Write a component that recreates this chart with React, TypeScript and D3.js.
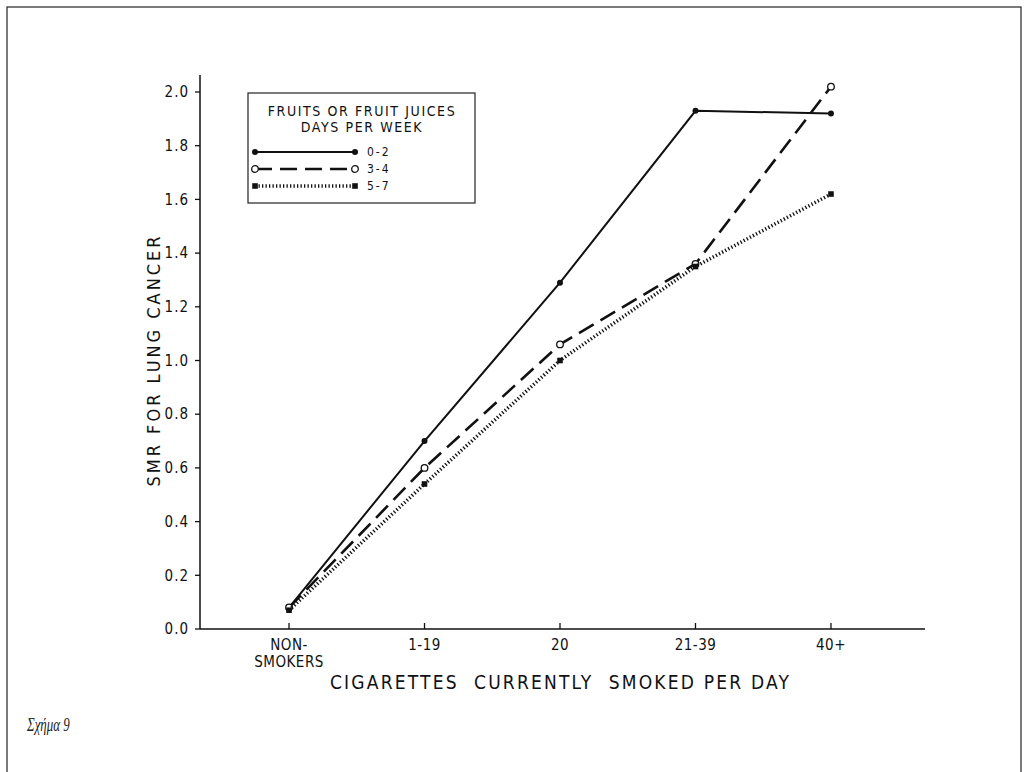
import { useMemo } from "react";
import * as d3 from "d3";

const categories = ["NON-|SMOKERS", "1-19", "20", "21-39", "40+"];
const seriesNames = ["0-2", "3-4", "5-7"];
const values02 = [0.08, 0.7, 1.29, 1.93, 1.92];
const values34 = [0.08, 0.6, 1.06, 1.36, 2.02];
const values57 = [0.07, 0.54, 1.0, 1.35, 1.62];
const yTicks = [0, 0.2, 0.4, 0.6, 0.8, 1.0, 1.2, 1.4, 1.6, 1.8, 2.0];

const WIDTH = 1029;
const HEIGHT = 772;
const MARGIN = { top: 75, right: 104, bottom: 143, left: 200 };
const FONT = "'Liberation Sans Narrow', 'DejaVu Sans Condensed', 'Liberation Sans', sans-serif";

const styles = [
  { dash: "none", width: 2, marker: "dot" },
  { dash: "17 8", width: 2.6, marker: "ring" },
  { dash: "1.3 2.2", width: 3.6, marker: "square" },
];

function Marker({ kind, x, y }: { kind: string; x: number; y: number }) {
  if (kind === "dot") return <circle cx={x} cy={y} r={3} fill="#111" />;
  if (kind === "ring")
    return <circle cx={x} cy={y} r={3.3} fill="#fff" stroke="#111" strokeWidth={1.3} />;
  return <rect x={x - 2.8} y={y - 2.8} width={5.6} height={5.6} fill="#111" />;
}

export default function App() {
  const boundsWidth = WIDTH - MARGIN.left - MARGIN.right;
  const boundsHeight = HEIGHT - MARGIN.top - MARGIN.bottom;

  const xScale = useMemo(
    () => d3.scalePoint().domain(categories).range([0, 720]).padding(0.657),
    []
  );
  const yScale = useMemo(
    () => d3.scaleLinear().domain([0, 2.0]).range([boundsHeight, 17]),
    [boundsHeight]
  );

  const allSeries = [values02, values34, values57];
  const line = d3
    .line<number>()
    .x((_, i) => xScale(categories[i])!)
    .y((d) => yScale(d));

  return (
    <svg
      width={WIDTH}
      height={HEIGHT}
      style={{ position: "absolute", left: 0, top: 0, background: "#fff" }}
    >
      <rect x={7} y={7} width={1014} height={780} fill="none" stroke="#222" strokeWidth={1.2} />

      <g transform={`translate(${MARGIN.left},${MARGIN.top})`} fontFamily={FONT} fill="#111">
        {/* axes */}
        <line x1={0} x2={0} y1={0} y2={boundsHeight} stroke="#111" strokeWidth={1.5} />
        <line x1={0} x2={boundsWidth} y1={boundsHeight} y2={boundsHeight} stroke="#111" strokeWidth={1.5} />
        {yTicks.map((t) => (
          <g key={t} transform={`translate(0,${yScale(t)})`}>
            <line x1={-5} x2={0} stroke="#111" strokeWidth={1.3} />
            <text x={-11} dy="0.35em" textAnchor="end" fontSize={15} letterSpacing={1}>
              {t.toFixed(1)}
            </text>
          </g>
        ))}
        {categories.map((c) => (
          <g key={c} transform={`translate(${xScale(c)},${boundsHeight})`}>
            <line y1={0} y2={-6} stroke="#111" strokeWidth={1.3} />
            {c.split("|").map((part, i) => (
              <text key={i} y={21 + i * 17} textAnchor="middle" fontSize={15} letterSpacing={0.5}>
                {part}
              </text>
            ))}
          </g>
        ))}
        <text
          x={boundsWidth / 2 - 2}
          y={boundsHeight + 60}
          textAnchor="middle"
          fontSize={19}
          letterSpacing={2.2}
          style={{ whiteSpace: "pre" }}
        >
          {"CIGARETTES  CURRENTLY  SMOKED PER DAY"}
        </text>
        <text
          transform={`translate(-40,${boundsHeight / 2 + 8}) rotate(-90)`}
          textAnchor="middle"
          fontSize={18}
          letterSpacing={3}
        >
          SMR FOR LUNG CANCER
        </text>

        {/* series */}
        {allSeries.map((vals, s) => (
          <g key={seriesNames[s]}>
            <path
              d={line(vals)!}
              fill="none"
              stroke="#111"
              strokeWidth={styles[s].width}
              strokeDasharray={styles[s].dash}
            />
            {vals.map((v, i) => (
              <Marker key={i} kind={styles[s].marker} x={xScale(categories[i])!} y={yScale(v)} />
            ))}
          </g>
        ))}

        {/* legend */}
        <g transform="translate(48,18)">
          <rect x={0} y={0} width={227} height={110} fill="#fff" stroke="#222" strokeWidth={1.2} />
          <text x={114} y={23} textAnchor="middle" fontSize={14} letterSpacing={1.6}>
            FRUITS OR FRUIT JUICES
          </text>
          <text x={114} y={39} textAnchor="middle" fontSize={14} letterSpacing={1.6}>
            DAYS PER WEEK
          </text>
          {seriesNames.map((name, s) => (
            <g key={name} transform={`translate(0,${59 + s * 17})`}>
              <line
                x1={7}
                x2={107}
                stroke="#111"
                strokeWidth={styles[s].width}
                strokeDasharray={styles[s].dash}
              />
              <Marker kind={styles[s].marker} x={7} y={0} />
              <Marker kind={styles[s].marker} x={107} y={0} />
              <text x={119} dy="0.35em" fontSize={12} letterSpacing={2}>
                {name}
              </text>
            </g>
          ))}
        </g>
      </g>

      <text
        x={27}
        y={731}
        fontFamily="'Liberation Serif', 'DejaVu Serif', serif"
        fontStyle="italic"
        fontSize={19}
        fill="#222"
        transform="translate(27,0) scale(0.68,1) translate(-27,0)"
      >
        Σχήμα 9
      </text>
    </svg>
  );
}
